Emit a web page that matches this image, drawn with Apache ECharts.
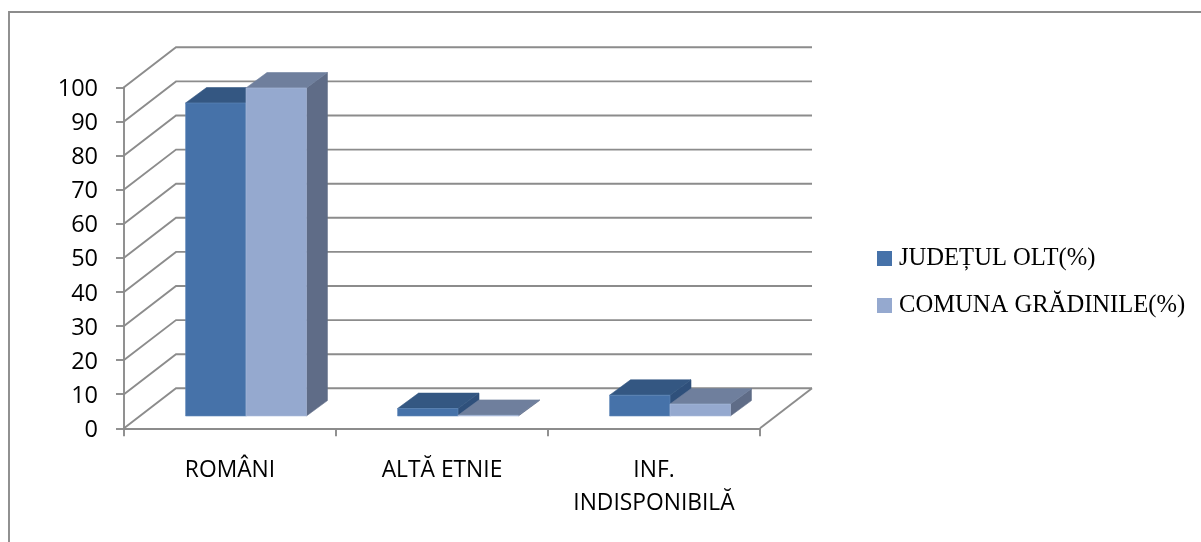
<!DOCTYPE html>
<html>
<head>
<meta charset="utf-8">
<style>html,body{margin:0;padding:0;background:#fff}#chart{width:1201px;height:542px}</style>
<script src="https://cdn.jsdelivr.net/npm/echarts@6/dist/echarts.min.js"></script>
</head>
<body>
<div id="chart"></div>
<script>
const categories = ['ROMÂNI', 'ALTĂ ETNIE', 'INF.\nINDISPONIBILĂ'];
const judetulOlt = [91.8, 2.2, 6.1];
const comunaGradinile = [96.2, 0.2, 3.5];
const valueTicks = [0, 10, 20, 30, 40, 50, 60, 70, 80, 90, 100];

const LINE = '#8c8c8c';
const LINE_W = 1.9;
// Oblique projection: how far the back wall and each column's depth sit from the front plane
const WALL_DX = 52, WALL_DY = -40;
const BAR_DX = 21, BAR_DY = -15.4;
const BASE_DX = 16, BASE_DY = -12.3;
const BAR_SHARE = 0.285;

function wallItem(params, api) {
  const v = api.value(0);
  const left = api.coord([0, v]);
  const band = api.size([1, 0])[0];
  const x0 = left[0] - band / 2, y = left[1];
  const x1 = x0 + band * categories.length;
  const style = { stroke: LINE, lineWidth: LINE_W, fill: 'none' };
  const children = [{
    type: 'polyline',
    shape: { points: [[x0, y], [x0 + WALL_DX, y + WALL_DY], [x1 + WALL_DX, y + WALL_DY]] },
    style
  }];
  if (v === 0) {
    children.push({ type: 'line', shape: { x1: x1, y1: y, x2: x1 + WALL_DX, y2: y + WALL_DY }, style });
  }
  return { type: 'group', children };
}

function columnItem(shades, slot) {
  return function (params, api) {
    const base = api.coord([api.value(0), 0]);
    const top = api.coord([api.value(0), api.value(1)]);
    const w = api.size([1, 0])[0] * BAR_SHARE;
    const xl = base[0] + BASE_DX - w + slot * w;
    const xr = xl + w;
    const yb = base[1] + BASE_DY;
    const yt = top[1] + BASE_DY;
    const poly = (points, fill, stroke) => ({
      type: 'polygon', shape: { points },
      style: { fill, stroke: stroke || fill, lineWidth: 0.6 }
    });
    return {
      type: 'group',
      children: [
        poly([[xr, yt], [xr + BAR_DX, yt + BAR_DY], [xr + BAR_DX, yb + BAR_DY], [xr, yb]], shades.side),
        poly([[xl, yt], [xl + BAR_DX, yt + BAR_DY], [xr + BAR_DX, yt + BAR_DY], [xr, yt]], shades.top),
        poly([[xl, yb], [xl, yt], [xr, yt], [xr, yb]], shades.front, shades.edge)
      ]
    };
  };
}

const oltShades = { front: '#4672a9', top: '#345782', side: '#2f507b', edge: '#5f88ba' };
const comunaShades = { front: '#95a9cf', top: '#6f7f9d', side: '#5f6c87', edge: '#abbcdb' };

const chart = echarts.init(document.getElementById('chart'), null, { renderer: 'canvas' });
chart.setOption({
  animation: false,
  backgroundColor: '#ffffff',
  grid: { left: 124, top: 87.3, width: 636, height: 341 },
  graphic: [{
    type: 'polyline', silent: true, z: 0,
    shape: { points: [[9, 542], [9, 12], [1201, 12]] },
    style: { stroke: LINE, lineWidth: LINE_W, fill: 'none' }
  }],
  legend: {
    orient: 'vertical', left: 872, top: 229.5, itemWidth: 15, itemHeight: 15, itemGap: -1, align: 'left',
    icon: 'rect', selectedMode: false,
    data: ['JUDEȚUL OLT(%)', 'COMUNA GRĂDINILE(%)'],
    textStyle: { fontFamily: 'Liberation Serif', fontSize: 24.6, color: '#000', lineHeight: 38, padding: [10, 0, 0, 2] }
  },
  xAxis: {
    type: 'category', data: categories,
    axisLine: { lineStyle: { color: LINE, width: LINE_W } },
    axisTick: { show: true, length: 8, alignWithLabel: false, lineStyle: { color: LINE, width: LINE_W } },
    axisLabel: { fontFamily: 'Open Sans', fontSize: 22.8, color: '#000', lineHeight: 33, margin: 26, interval: 0 }
  },
  yAxis: {
    type: 'value', min: 0, max: 100, interval: 10,
    splitLine: { show: false },
    axisLine: { show: true, lineStyle: { color: LINE, width: LINE_W } },
    axisTick: { show: true, length: 8, lineStyle: { color: LINE, width: LINE_W } },
    axisLabel: { fontFamily: 'Open Sans', fontSize: 23.5, color: '#000', margin: 26, verticalAlign: 'top', lineHeight: 4 }
  },
  series: [
    { type: 'custom', name: 'walls', silent: true, z: 1, clip: false, coordinateSystem: 'cartesian2d',
      renderItem: wallItem, encode: { y: 0 }, data: valueTicks.map(v => [v]) },
    { type: 'custom', name: 'JUDEȚUL OLT(%)', z: 2, clip: false, itemStyle: { color: oltShades.front },
      renderItem: columnItem(oltShades, 0), encode: { x: 0, y: 1 },
      data: judetulOlt.map((v, i) => [i, v]) },
    { type: 'custom', name: 'COMUNA GRĂDINILE(%)', z: 3, clip: false, itemStyle: { color: comunaShades.front },
      renderItem: columnItem(comunaShades, 1), encode: { x: 0, y: 1 },
      data: comunaGradinile.map((v, i) => [i, v]) }
  ]
});
</script>
</body>
</html>
